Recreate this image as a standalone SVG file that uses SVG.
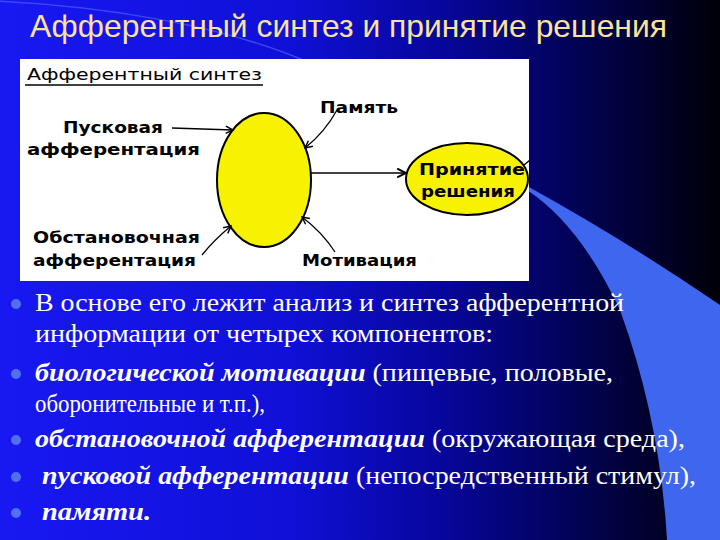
<svg xmlns="http://www.w3.org/2000/svg" width="720" height="540" viewBox="0 0 720 540">
<defs>
<linearGradient id="bg" x1="0" y1="0" x2="1" y2="0">
<stop offset="0" stop-color="#1818f2"/>
<stop offset="0.4" stop-color="#1010d8"/>
<stop offset="0.62" stop-color="#06069a"/>
<stop offset="0.8" stop-color="#020255"/>
<stop offset="1" stop-color="#000008"/>
</linearGradient>
<marker id="ah" viewBox="0 0 10 10" refX="9" refY="5" markerWidth="9" markerHeight="9" markerUnits="userSpaceOnUse" orient="auto">
<path d="M1,1 L9,5 L1,9" fill="none" stroke="#000" stroke-width="1.6"/>
</marker>
<marker id="ahb" viewBox="0 0 10 10" refX="9" refY="5" markerWidth="11" markerHeight="11" markerUnits="userSpaceOnUse" orient="auto">
<path d="M1,1 L9,5 L1,9" fill="none" stroke="#000" stroke-width="1.8"/>
</marker>
</defs>
<style>
.lbl{font-family:"DejaVu Sans","Liberation Sans",sans-serif;font-weight:bold;font-size:15.5px;fill:#000}
.bul{font-family:"Liberation Serif","Times New Roman",serif;font-size:26px;fill:#fff}
.bi{font-weight:bold;font-style:italic}
.dot{fill:#5070f0}
.con{fill:none;stroke:#000;stroke-width:1.3}
</style>
<rect width="720" height="540" fill="url(#bg)"/>
<path d="M527,186 Q625,240 720,305 L720,540 L667,540 Q660,420 620,310 Q580,225 527,190 Z" fill="#3f66ee"/>
<path d="M-5,1 C100,6 220,24 308,62" fill="none" stroke="#4a5cff" stroke-width="1.5" opacity="0.7"/>
<text x="30" y="37" font-family="Liberation Sans, Arial, sans-serif" font-size="30.5" fill="#fbe39c" textLength="637" lengthAdjust="spacingAndGlyphs">Афферентный синтез и принятие решения</text>
<rect x="20" y="59" width="509" height="222" fill="#fff"/>
<g id="title-label">
<text x="27" y="80" font-family="DejaVu Sans, Liberation Sans, sans-serif" font-size="16" fill="#000" textLength="235" lengthAdjust="spacingAndGlyphs">Афферентный синтез</text>
<line x1="25" y1="85" x2="263" y2="85" stroke="#000" stroke-width="1.5"/>
</g>
<g id="synthesis">
<ellipse cx="264" cy="180" rx="47" ry="67" fill="#f7f200" stroke="#000" stroke-width="2"/>
</g>
<g id="decision">
<ellipse cx="467" cy="179" rx="61" ry="36" fill="#f7f200" stroke="#000" stroke-width="2"/>
<text class="lbl" x="419" y="175" textLength="106" lengthAdjust="spacingAndGlyphs">Принятие</text>
<text class="lbl" x="421" y="197" textLength="94" lengthAdjust="spacingAndGlyphs">решения</text>
</g>
<g id="trigger">
<text class="lbl" x="63" y="133" textLength="100" lengthAdjust="spacingAndGlyphs">Пусковая</text>
<text class="lbl" x="27" y="155" textLength="173" lengthAdjust="spacingAndGlyphs">афферентация</text>
</g>
<g id="situation">
<text class="lbl" x="33" y="243" textLength="167" lengthAdjust="spacingAndGlyphs">Обстановочная</text>
<text class="lbl" x="33" y="266" textLength="163" lengthAdjust="spacingAndGlyphs">афферентация</text>
</g>
<g id="memory">
<text class="lbl" x="320" y="113" textLength="78" lengthAdjust="spacingAndGlyphs">Память</text>
</g>
<g id="motivation">
<text class="lbl" x="302" y="266" textLength="115" lengthAdjust="spacingAndGlyphs">Мотивация</text>
</g>
<g id="connectors">
<path class="con" d="M172,128 L233,130" stroke-width="2" marker-end="url(#ah)"/>
<path class="con" d="M202,255 Q214,240 231,226" marker-end="url(#ah)"/>
<path class="con" d="M337,110 Q325,132 305,148" marker-end="url(#ah)"/>
<path class="con" d="M335,252 Q322,232 302,217" marker-end="url(#ah)"/>
<path class="con" d="M311,173 L406,173" stroke-width="2.2" marker-end="url(#ahb)"/>
<path class="con" d="M524,165 L530,160"/>
</g>
<g id="bullets">
<circle class="dot" cx="16" cy="304" r="5"/>
<circle class="dot" cx="16" cy="374" r="5"/>
<circle class="dot" cx="16" cy="440" r="5"/>
<circle class="dot" cx="16" cy="477" r="5"/>
<circle class="dot" cx="16" cy="513" r="5"/>
<text class="bul" x="35" y="311" textLength="589" lengthAdjust="spacingAndGlyphs">В основе его лежит анализ и синтез афферентной</text>
<text class="bul" x="35" y="342" textLength="458" lengthAdjust="spacingAndGlyphs">информации от четырех компонентов:</text>
<text class="bul" x="35" y="381" textLength="578" lengthAdjust="spacingAndGlyphs"><tspan class="bi">биологической мотивации</tspan> (пищевые, половые,</text>
<text class="bul" x="35" y="412" textLength="230" lengthAdjust="spacingAndGlyphs">оборонительные и т.п.),</text>
<text class="bul" x="35" y="447" textLength="650" lengthAdjust="spacingAndGlyphs"><tspan class="bi">обстановочной афферентации</tspan> (окружающая среда),</text>
<text class="bul" x="42" y="484" textLength="654" lengthAdjust="spacingAndGlyphs"><tspan class="bi">пусковой афферентации</tspan> (непосредственный стимул),</text>
<text class="bul bi" x="42" y="520" textLength="109" lengthAdjust="spacingAndGlyphs">памяти.</text>
</g>
</svg>
